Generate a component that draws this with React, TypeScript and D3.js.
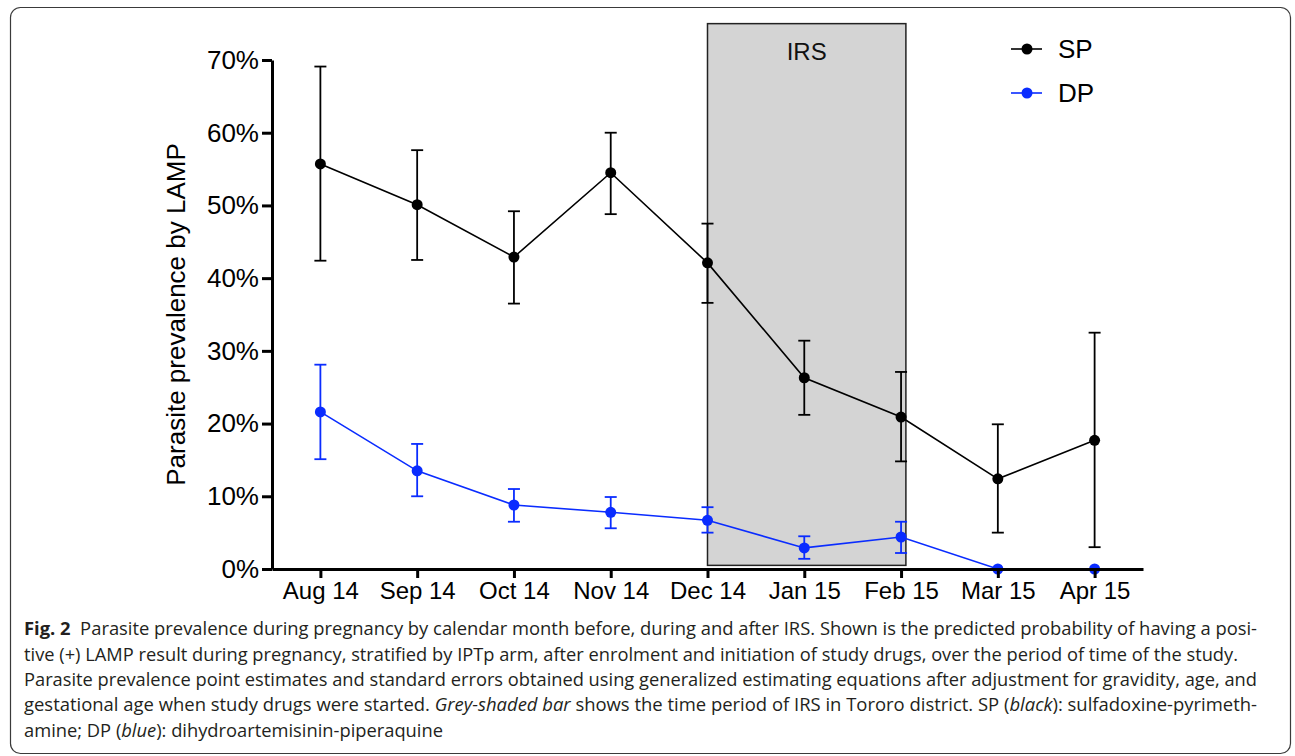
import React, { useEffect, useRef } from "react";
import * as d3 from "d3";

// months on the x axis
const months = ["Aug 14", "Sep 14", "Oct 14", "Nov 14", "Dec 14", "Jan 15", "Feb 15", "Mar 15", "Apr 15"];

// SP arm (black): estimate and error bar ends, in %
const spMean = [55.7, 50.1, 42.9, 54.5, 42.1, 26.3, 20.9, 12.4, 17.7];
const spLow = [42.4, 42.5, 36.5, 48.8, 36.6, 21.2, 14.8, 5.0, 3.0];
const spHigh = [69.1, 57.6, 49.2, 60.0, 47.5, 31.4, 27.1, 19.9, 32.5];

// DP arm (blue)
const dpMean = [21.6, 13.5, 8.8, 7.8, 6.7, 2.9, 4.4, 0, 0];
const dpLow = [15.1, 10.0, 6.5, 5.6, 5.0, 1.4, 2.2, null, null];
const dpHigh = [28.1, 17.2, 11.0, 9.9, 8.5, 4.5, 6.5, null, null];

const yTicks = [0, 10, 20, 30, 40, 50, 60, 70];

// IRS period
const irsStart = "Dec 14";
const irsEnd = "Feb 15";

const captionLines = [
  [
    { t: "Fig. 2", bold: true },
    { t: "  Parasite prevalence during pregnancy by calendar month before, during and after IRS. Shown is the predicted probability of having a posi-" },
  ],
  [{ t: "tive (+) LAMP result during pregnancy, stratified by IPTp arm, after enrolment and initiation of study drugs, over the period of time of the study." }],
  [{ t: "Parasite prevalence point estimates and standard errors obtained using generalized estimating equations after adjustment for gravidity, age, and" }],
  [
    { t: "gestational age when study drugs were started. " },
    { t: "Grey-shaded bar", italic: true },
    { t: " shows the time period of IRS in Tororo district. SP (" },
    { t: "black", italic: true },
    { t: "): sulfadoxine-pyrimeth-" },
  ],
  [
    { t: "amine; DP (" },
    { t: "blue", italic: true },
    { t: "): dihydroartemisinin-piperaquine" },
  ],
];
const captionWidths = [1233, 1214, 1233, 1233, 419];
const captionBase = [635, 661, 686, 711, 737];

const App = () => {
  const svgRef = useRef<SVGSVGElement>(null);

  useEffect(() => {
    const width = 1295;
    const height = 756;
    const left = 272;
    const right = 1143;
    const top = 60;
    const bottom = 569;

    const svg = d3.select(svgRef.current)
      .attr("width", width)
      .attr("height", height)
      .style("position", "absolute")
      .style("left", 0)
      .style("top", 0)
      .style("font-family", "Liberation Sans, Arial, sans-serif");

    svg.selectAll("*").remove();

    // outer frame
    svg.append("rect")
      .attr("x", 10.5).attr("y", 7.5)
      .attr("width", 1280).attr("height", 746)
      .attr("rx", 10)
      .attr("fill", "white")
      .attr("stroke", "#3a3a3a")
      .attr("stroke-width", 1.2);

    const x = d3.scalePoint<string>()
      .domain(months)
      .range([left, right])
      .padding(0.5);

    const y = d3.scaleLinear()
      .domain([0, 70])
      .range([bottom, top]);

    // grey IRS box
    const step = x.step();
    svg.append("rect")
      .attr("x", x(irsStart)!)
      .attr("y", y(75))
      .attr("width", x(irsEnd)! + step * 0.05 - x(irsStart)!)
      .attr("height", y(0.5) - y(75))
      .attr("fill", "#d4d4d4")
      .attr("stroke", "#222")
      .attr("stroke-width", 1.5);

    svg.append("text")
      .attr("x", (x(irsStart)! + x(irsEnd)! + step * 0.05) / 2)
      .attr("y", 60)
      .attr("text-anchor", "middle")
      .attr("font-size", 24)
      .attr("fill", "#111")
      .text("IRS");

    const drawSeries = (mean: number[], low: (number | null)[], high: (number | null)[], color: string) => {
      const g = svg.append("g");
      const line = d3.line<number>()
        .x((d, i) => x(months[i])!)
        .y((d) => y(d));
      g.append("path")
        .datum(mean)
        .attr("d", line)
        .attr("fill", "none")
        .attr("stroke", color)
        .attr("stroke-width", 1.6);

      months.forEach((m, i) => {
        const lo = low[i];
        const hi = high[i];
        if (lo == null || hi == null) return;
        const cx = x(m)!;
        g.append("line")
          .attr("x1", cx).attr("x2", cx)
          .attr("y1", y(lo)).attr("y2", y(hi))
          .attr("stroke", color).attr("stroke-width", 1.8);
        [lo, hi].forEach((v) => {
          g.append("line")
            .attr("x1", cx - 6).attr("x2", cx + 6)
            .attr("y1", y(v)).attr("y2", y(v))
            .attr("stroke", color).attr("stroke-width", 1.8);
        });
      });

      g.selectAll("circle")
        .data(mean)
        .join("circle")
        .attr("cx", (d, i) => x(months[i])!)
        .attr("cy", (d) => y(d))
        .attr("r", 5.5)
        .attr("fill", color);
    };

    drawSeries(spMean, spLow, spHigh, "#000");
    drawSeries(dpMean, dpLow, dpHigh, "#0a2cff");

    // y axis
    const yAxis = svg.append("g")
      .attr("transform", `translate(${left},0)`)
      .call(d3.axisLeft(y).tickValues(yTicks).tickSize(10).tickSizeOuter(0).tickPadding(3).tickFormat((d) => `${d}%`));
    yAxis.select(".domain").attr("stroke", "#000").attr("stroke-width", 3);
    yAxis.selectAll(".tick line").attr("stroke", "#000").attr("stroke-width", 3);
    yAxis.selectAll(".tick text")
      .attr("font-size", 26)
      .attr("font-family", "Liberation Sans, Arial, sans-serif")
      .attr("fill", "#000");

    // x axis
    const xAxis = svg.append("g")
      .attr("transform", `translate(0,${bottom})`)
      .call(d3.axisBottom(x).tickSize(9).tickSizeOuter(0).tickPadding(4));
    xAxis.select(".domain").attr("stroke", "#000").attr("stroke-width", 3);
    xAxis.selectAll(".tick line").attr("stroke", "#000").attr("stroke-width", 3);
    xAxis.selectAll(".tick text")
      .attr("font-size", 24)
      .attr("font-family", "Liberation Sans, Arial, sans-serif")
      .attr("fill", "#000");

    // y axis title
    svg.append("text")
      .attr("transform", `translate(185,${(top + bottom) / 2}) rotate(-90)`)
      .attr("text-anchor", "middle")
      .attr("font-size", 26)
      .attr("fill", "#000")
      .text("Parasite prevalence by LAMP");

    // legend
    const legend = [
      { name: "SP", color: "#000" },
      { name: "DP", color: "#0a2cff" },
    ];
    legend.forEach((l, i) => {
      const ly = 49 + i * 44;
      svg.append("line")
        .attr("x1", 1011).attr("x2", 1042)
        .attr("y1", ly).attr("y2", ly)
        .attr("stroke", l.color).attr("stroke-width", 1.6);
      svg.append("circle")
        .attr("cx", 1027).attr("cy", ly).attr("r", 5.5)
        .attr("fill", l.color);
      svg.append("text")
        .attr("x", 1058).attr("y", ly + 9)
        .attr("font-size", 26)
        .attr("fill", "#000")
        .text(l.name);
    });

    // caption
    captionLines.forEach((parts, i) => {
      const t = svg.append("text")
        .attr("x", 24)
        .attr("y", captionBase[i])
        .attr("font-family", "Open Sans, sans-serif")
        .attr("font-size", 18.5)
        .attr("fill", "#231f20")
        .attr("textLength", captionWidths[i])
        .attr("lengthAdjust", "spacingAndGlyphs");
      parts.forEach((p: any) => {
        t.append("tspan")
          .attr("font-weight", p.bold ? "bold" : null)
          .attr("font-style", p.italic ? "italic" : null)
          .attr("xml:space", "preserve")
          .text(p.t);
      });
    });
  }, []);

  return <svg ref={svgRef}></svg>;
};

export default App;
